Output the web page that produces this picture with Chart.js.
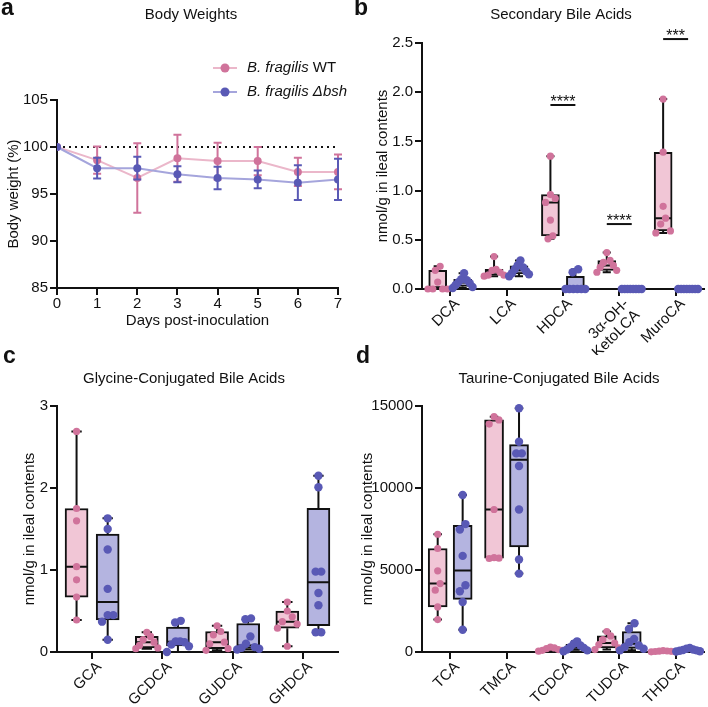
<!DOCTYPE html>
<html>
<head>
<meta charset="utf-8">
<script src="https://cdn.jsdelivr.net/npm/chart.js@4.4.1/dist/chart.umd.min.js"></script>
<style>
html, body { margin: 0; padding: 0; background: #fff; }
#page { position: relative; width: 708px; height: 707px; overflow: hidden; }
canvas { position: absolute; }
</style>
</head>
<body>
<div id="page">
  <canvas id="chartA" width="354" height="335" style="left:0;top:0"></canvas>
  <canvas id="chartB" width="354" height="355" style="left:354px;top:0"></canvas>
  <canvas id="chartC" width="354" height="372" style="left:0;top:335px"></canvas>
  <canvas id="chartD" width="354" height="372" style="left:354px;top:335px"></canvas>
</div>
<script>
// a - body weights (% of day 0), mean and error
const days = [0, 1, 2, 3, 4, 5, 6, 7];
const wtMean = [100, 98.6, 96.7, 98.8, 98.5, 98.5, 97.35, 97.35];
const wtErr = [0, 1.45, 3.7, 2.5, 1.95, 1.5, 1.5, 1.85];
const bshMean = [100, 97.75, 97.75, 97.1, 96.7, 96.55, 96.2, 96.55];
const bshErr = [0, 1.1, 1.2, 0.85, 1.2, 0.95, 1.85, 2.2];
const baseline = 100;

// b - secondary bile acids (nmol/g), one list per mouse group
const secLabels = ['DCA', 'LCA', 'HDCA', ['3α-OH-', 'KetoLCA'], 'MuroCA'];
const secWT = [
  [0, 0, 0, 0, 0.07, 0.19, 0.23],
  [0.13, 0.14, 0.14, 0.17, 0.19, 0.20, 0.33],
  [0.51, 0.54, 0.70, 0.88, 0.92, 0.96, 1.35],
  [0.17, 0.19, 0.22, 0.24, 0.27, 0.29, 0.37],
  [0.57, 0.59, 0.66, 0.72, 0.84, 1.39, 1.93]
];
const secBsh = [
  [0.01, 0.02, 0.04, 0.06, 0.07, 0.09, 0.10, 0.16],
  [0.13, 0.15, 0.16, 0.18, 0.20, 0.22, 0.24, 0.29],
  [0, 0, 0, 0, 0, 0, 0.17, 0.20],
  [0, 0, 0, 0, 0, 0, 0, 0],
  [0, 0, 0, 0, 0, 0, 0, 0]
];
const secStars = [
  { cat: 2, y: 1.87, text: '****' },
  { cat: 3, y: 0.66, text: '****' },
  { cat: 4, y: 2.54, text: '***' }
];

// c - glycine-conjugated
const glyLabels = ['GCA', 'GCDCA', 'GUDCA', 'GHDCA'];
const glyWT = [
  [0.39, 0.67, 0.88, 1.04, 1.60, 1.75, 2.69],
  [0.04, 0.05, 0.08, 0.12, 0.15, 0.19, 0.24],
  [0.02, 0.04, 0.10, 0.12, 0.21, 0.25, 0.32],
  [0.07, 0.29, 0.34, 0.37, 0.43, 0.50, 0.61]
];
const glyBsh = [
  [0.15, 0.37, 0.45, 0.45, 0.77, 1.25, 1.50, 1.63],
  [0.00, 0.07, 0.09, 0.12, 0.13, 0.13, 0.36, 0.38],
  [0.03, 0.04, 0.05, 0.06, 0.10, 0.19, 0.40, 0.41],
  [0.24, 0.24, 0.57, 0.72, 0.98, 0.98, 2.01, 2.15]
];

// d - taurine-conjugated
const tauLabels = ['TCA', 'TMCA', 'TCDCA', 'TUDCA', 'THDCA'];
const tauWT = [
  [1975, 2750, 3770, 4170, 4950, 6310, 7180],
  [5700, 5720, 5750, 8690, 13900, 14150, 14350],
  [50, 100, 100, 150, 200, 250, 300],
  [150, 250, 450, 550, 750, 980, 1250],
  [10, 20, 30, 40, 50, 60, 80]
];
const tauBsh = [
  [1360, 3050, 3700, 4070, 5860, 7470, 7800, 9570],
  [4780, 5640, 8690, 11340, 12110, 12110, 12820, 14860],
  [50, 100, 150, 250, 300, 400, 500, 650],
  [100, 200, 300, 400, 600, 800, 1400, 1750],
  [30, 50, 80, 100, 120, 150, 200, 250]
];

const FONT = '"Liberation Sans", Arial, Helvetica, sans-serif';
const INK = '#111';
const PINK_PT = '#d0739b', PINK_FILL = '#f1c6d6', PINK_LINE = '#ebb7ca';
const BLUE_PT = '#5959b5', BLUE_FILL = '#b4b4e0', BLUE_LINE = '#a5a5dc';

Chart.defaults.font.family = FONT;
Chart.defaults.color = INK;
Chart.defaults.animation = false;

// GraphPad style percentiles ((n+1)p)
function pct(s, p) {
  const h = (s.length + 1) * p;
  if (h <= 1) return s[0];
  if (h >= s.length) return s[s.length - 1];
  const lo = Math.floor(h);
  return s[lo - 1] + (h - lo) * (s[lo] - s[lo - 1]);
}
function boxStats(vals) {
  const s = [...vals].sort((a, b) => a - b);
  return { min: s[0], q1: pct(s, 0.25), med: pct(s, 0.5), q3: pct(s, 0.75), max: s[s.length - 1] };
}

// spread close points sideways so they don't sit on top of each other
function swarm(groups, side, pxPerCat, pxPerUnit, maxW, r) {
  const pts = [];
  const D = 2 * r + 1;
  groups.forEach((vals, cat) => {
    const s = [...vals].sort((a, b) => a - b);
    let i = 0;
    while (i < s.length) {
      let j = i;
      while (j + 1 < s.length && (s[j + 1] - s[j]) * pxPerUnit < D) j++;
      const k = j - i + 1;
      const step = k > 1 ? Math.min(D * 0.6, maxW / (k - 1)) : 0;
      const slots = [];
      for (let m = 0; m < k; m++) slots.push((m - (k - 1) / 2) * step);
      slots.sort((a, b) => Math.abs(b) - Math.abs(a));
      for (let m = 0; m < k; m++) {
        pts.push({ x: cat + side + slots[m] / pxPerCat, y: s[i + m] });
      }
      i = j + 1;
    }
  });
  return pts;
}

// letters, titles, legend
const panelText = {
  id: 'panelText',
  afterDraw(chart, args, o) {
    const ctx = chart.ctx;
    ctx.save();
    ctx.fillStyle = INK;
    ctx.textAlign = 'left';
    ctx.textBaseline = 'alphabetic';
    ctx.font = 'bold 23px ' + FONT;
    ctx.fillText(o.letter, o.letterX, o.letterY);
    ctx.textAlign = 'center';
    ctx.textBaseline = 'middle';
    ctx.font = '15px ' + FONT;
    ctx.fillText(o.title, o.titleX, o.titleY);
    (o.legend || []).forEach(item => {
      ctx.strokeStyle = item.line;
      ctx.lineWidth = 2;
      ctx.beginPath();
      ctx.moveTo(213, item.y); ctx.lineTo(237, item.y);
      ctx.stroke();
      ctx.fillStyle = item.point;
      ctx.beginPath();
      ctx.arc(225, item.y, 4.5, 0, Math.PI * 2);
      ctx.fill();
      ctx.fillStyle = INK;
      ctx.textAlign = 'left';
      let x = 247;
      item.parts.forEach(p => {
        ctx.font = (p.i ? 'italic ' : '') + '15px ' + FONT;
        ctx.fillText(p.t, x, item.y);
        x += ctx.measureText(p.t).width;
      });
    });
    ctx.restore();
  }
};

const errorBars = {
  id: 'errorBars',
  beforeDatasetDraw(chart, args) {
    const ds = chart.data.datasets[args.index];
    if (!ds.err) return;
    const ctx = chart.ctx, y = chart.scales.y;
    ctx.save();
    ctx.strokeStyle = ds.pointBackgroundColor;
    ctx.lineWidth = 2;
    args.meta.data.forEach((pt, i) => {
      const e = ds.err[i];
      if (!e) return;
      const m = ds.data[i].y;
      const y1 = y.getPixelForValue(m + e), y2 = y.getPixelForValue(m - e);
      ctx.beginPath();
      ctx.moveTo(pt.x, y1); ctx.lineTo(pt.x, y2);
      ctx.moveTo(pt.x - 4, y1); ctx.lineTo(pt.x + 4, y1);
      ctx.moveTo(pt.x - 4, y2); ctx.lineTo(pt.x + 4, y2);
      ctx.stroke();
    });
    ctx.restore();
  }
};

// whiskers (min to max) and median for the floating-bar boxes
const whiskers = {
  id: 'whiskers',
  afterDatasetDraw(chart, args) {
    const ds = chart.data.datasets[args.index];
    if (!ds.boxStats) return;
    const ctx = chart.ctx, y = chart.scales.y;
    ctx.save();
    ctx.strokeStyle = INK;
    ctx.lineWidth = 2;
    args.meta.data.forEach((bar, i) => {
      const s = ds.boxStats[i];
      const cx = bar.x, w = bar.width, cap = w * 0.45;
      const py = v => y.getPixelForValue(v);
      ctx.beginPath();
      if (s.max > s.q3) {
        ctx.moveTo(cx, py(s.q3)); ctx.lineTo(cx, py(s.max));
        ctx.moveTo(cx - cap / 2, py(s.max)); ctx.lineTo(cx + cap / 2, py(s.max));
      }
      if (s.min < s.q1) {
        ctx.moveTo(cx, py(s.q1)); ctx.lineTo(cx, py(s.min));
        ctx.moveTo(cx - cap / 2, py(s.min)); ctx.lineTo(cx + cap / 2, py(s.min));
      }
      if (s.q3 > s.q1) {
        ctx.moveTo(cx - w / 2 + 1, py(s.med)); ctx.lineTo(cx + w / 2 - 1, py(s.med));
      }
      ctx.stroke();
    });
    ctx.restore();
  }
};

const stars = {
  id: 'stars',
  afterDatasetsDraw(chart, args, o) {
    if (!o.items) return;
    const ctx = chart.ctx, y = chart.scales.y;
    const a = chart.getDatasetMeta(2), b = chart.getDatasetMeta(3);
    ctx.save();
    ctx.strokeStyle = INK;
    ctx.fillStyle = INK;
    ctx.lineWidth = 2;
    ctx.font = '16px ' + FONT;
    ctx.textAlign = 'center';
    ctx.textBaseline = 'alphabetic';
    o.items.forEach(it => {
      const x1 = a.data[it.cat].x, x2 = b.data[it.cat].x, py = y.getPixelForValue(it.y);
      ctx.beginPath();
      ctx.moveTo(x1, py); ctx.lineTo(x2, py);
      ctx.stroke();
      ctx.fillText(it.text, (x1 + x2) / 2, py + 2);
    });
    ctx.restore();
  }
};

function axisStyle(extra) {
  return Object.assign({
    grid: { drawOnChartArea: false, drawTicks: true, tickLength: 7, lineWidth: 2, color: INK, offset: false },
    border: { display: true, width: 2, color: INK }
  }, extra);
}

// a
new Chart(document.getElementById('chartA'), {
  type: 'line',
  data: {
    datasets: [
      {
        label: 'B. fragilis Δbsh',
        data: days.map((d, i) => ({ x: d, y: bshMean[i] })),
        err: bshErr,
        borderColor: BLUE_LINE, borderWidth: 2,
        pointBackgroundColor: BLUE_PT, pointBorderWidth: 0, pointRadius: 4,
        tension: 0
      },
      {
        label: 'B. fragilis WT',
        data: days.map((d, i) => ({ x: d, y: wtMean[i] })),
        err: wtErr,
        borderColor: PINK_LINE, borderWidth: 2,
        pointBackgroundColor: PINK_PT, pointBorderWidth: 0, pointRadius: 4,
        tension: 0
      },
      {
        label: 'baseline',
        data: [{ x: days[0], y: baseline }, { x: days[days.length - 1], y: baseline }],
        borderColor: INK, borderWidth: 2, borderDash: [2, 4], pointRadius: 0
      }
    ]
  },
  options: {
    responsive: false,
    layout: { padding: { top: 100, right: 16, left: 0, bottom: 0 } },
    plugins: {
      legend: { display: false }, tooltip: { enabled: false },
      panelText: {
        letter: 'a', letterX: 1, letterY: 15, title: 'Body Weights', titleX: 191, titleY: 15,
        legend: [
          { y: 68, line: PINK_LINE, point: PINK_PT, parts: [{ t: 'B. fragilis ', i: true }, { t: 'WT', i: false }] },
          { y: 92, line: BLUE_LINE, point: BLUE_PT, parts: [{ t: 'B. fragilis ', i: true }, { t: 'Δbsh', i: true }] }
        ]
      }
    },
    scales: {
      x: axisStyle({
        type: 'linear', min: 0, max: 7,
        ticks: { stepSize: 1, font: { size: 15 }, padding: 0 },
        title: { display: true, text: 'Days post-inoculation', font: { size: 15 }, padding: { top: 0, bottom: 5 } },
        afterFit: s => { s.height = 47; }
      }),
      y: axisStyle({
        min: 85, max: 105,
        ticks: { stepSize: 5, font: { size: 15 }, padding: 2 },
        title: { display: true, text: 'Body weight (%)', font: { size: 15 }, padding: { top: 5, bottom: 0 } },
        afterFit: s => { s.width = 57; }
      })
    }
  },
  plugins: [errorBars, panelText]
});

function boxChart(id, o) {
  const n = o.labels.length;
  const side = 0.2215;
  const wtStats = o.wt.map(boxStats), bshStats = o.bsh.map(boxStats);
  return new Chart(document.getElementById(id), {
    type: 'bar',
    data: {
      labels: o.labels,
      datasets: [
        {
          type: 'scatter', xAxisID: 'xs', clip: false,
          data: swarm(o.bsh, side, o.pxPerCat, o.pxPerUnit, o.maxW, 4.2),
          pointBackgroundColor: BLUE_PT, pointBorderWidth: 0, pointRadius: 4.2
        },
        {
          type: 'scatter', xAxisID: 'xs', clip: false,
          data: swarm(o.wt, -side, o.pxPerCat, o.pxPerUnit, o.maxW, 3.6),
          pointBackgroundColor: PINK_PT, pointBorderWidth: 0, pointRadius: 3.6
        },
        {
          label: 'B. fragilis WT', xAxisID: 'xs', grouped: false, barThickness: o.boxW,
          data: wtStats.map((s, i) => ({ x: i - side, y: [s.q1, s.q3] })), boxStats: wtStats,
          backgroundColor: PINK_FILL, borderColor: INK, borderWidth: 2, borderSkipped: false
        },
        {
          label: 'B. fragilis Δbsh', xAxisID: 'xs', grouped: false, barThickness: o.boxW,
          data: bshStats.map((s, i) => ({ x: i + side, y: [s.q1, s.q3] })), boxStats: bshStats,
          backgroundColor: BLUE_FILL, borderColor: INK, borderWidth: 2, borderSkipped: false
        }
      ]
    },
    options: {
      responsive: false,
      layout: { padding: { top: o.padTop, right: o.padRight, left: 0, bottom: 0 } },
      plugins: {
        legend: { display: false }, tooltip: { enabled: false },
        panelText: o.text,
        stars: { items: o.stars }
      },
      scales: {
        x: axisStyle({
          type: 'category', offset: true,
          ticks: { font: { size: 15, lineHeight: 1.05 }, minRotation: 45, maxRotation: 45, autoSkip: false, padding: 0, labelOffset: 7 },
          afterFit: s => { s.height = o.xHeight; }
        }),
        xs: { type: 'linear', display: false, offset: false, min: -0.5, max: n - 0.5 },
        y: axisStyle({
          min: 0, max: o.yMax,
          ticks: { stepSize: o.yStep, font: { size: 15 }, padding: 2, callback: o.fmt },
          title: { display: true, text: 'nmol/g in ileal contents', font: { size: 15 }, padding: { top: o.yTitlePad, bottom: 0 } },
          afterFit: s => { s.width = o.yWidth; }
        })
      }
    },
    plugins: [whiskers, stars, panelText]
  });
}

// b
boxChart('chartB', {
  labels: secLabels, wt: secWT, bsh: secBsh, stars: secStars,
  yMax: 2.5, yStep: 0.5, fmt: v => v.toFixed(1),
  pxPerCat: 57, pxPerUnit: 98.2, maxW: 20, boxW: 18,
  padTop: 43, padRight: 1, xHeight: 66, yWidth: 68, yTitlePad: 20,
  text: { letter: 'b', letterX: 0, letterY: 15, title: 'Secondary Bile Acids', titleX: 207, titleY: 15 }
});

// c
boxChart('chartC', {
  labels: glyLabels, wt: glyWT, bsh: glyBsh,
  yMax: 3, yStep: 1, fmt: v => String(v),
  pxPerCat: 70.25, pxPerUnit: 81.9, maxW: 22, boxW: 23,
  padTop: 71, padRight: 16, xHeight: 55, yWidth: 57, yTitlePad: 21,
  text: { letter: 'c', letterX: 3, letterY: 28, title: 'Glycine-Conjugated Bile Acids', titleX: 184, titleY: 44 }
});

// d
boxChart('chartD', {
  labels: tauLabels, wt: tauWT, bsh: tauBsh,
  yMax: 15000, yStep: 5000, fmt: v => String(v),
  pxPerCat: 57, pxPerUnit: 0.01638, maxW: 24, boxW: 19,
  padTop: 71, padRight: 1, xHeight: 55, yWidth: 68, yTitlePad: 5,
  text: { letter: 'd', letterX: 2, letterY: 28, title: 'Taurine-Conjugated Bile Acids', titleX: 205, titleY: 44 }
});
</script>
</body>
</html>
